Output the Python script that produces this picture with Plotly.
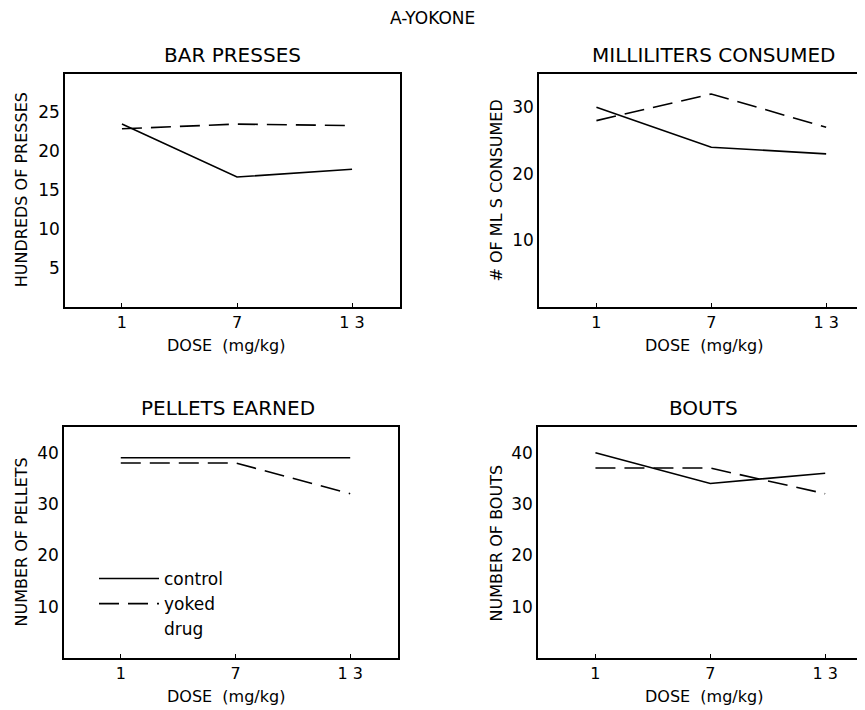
import plotly.graph_objects as go

doses = [1, 7, 13]
dose_ticks = ["1", "7", "1 3"]

bar_control = [23.5, 16.7, 17.7]
bar_yoked = [22.9, 23.5, 23.3]

ml_control = [30.0, 24.0, 23.0]
ml_yoked = [28.0, 32.0, 27.0]

pel_control = [39.0, 39.0, 39.0]
pel_yoked = [38.0, 38.0, 32.0]

bouts_control = [40.0, 34.0, 36.0]
bouts_yoked = [37.0, 37.0, 32.0]

# page has a default 8px body margin: size the figure to fill the rest of the window
OFF = 8
WIN_W, WIN_H = 865, 710
W, H = WIN_W - OFF, WIN_H - OFF
FONT = "DejaVu Sans"

def px(v):
    return (v - OFF) / W

def py(v):
    return 1 - (v - OFF) / H

panels = [
    ("", (65, 400), (307, 73.5), [-1.97, 15.5], [0, 30], [5, 10, 15, 20, 25], bar_control, bar_yoked,
     "BAR PRESSES", "HUNDREDS OF PRESSES", True),
    ("2", (539, 865), (307, 74), [-2.0, 15.03], [0, 35], [10, 20, 30], ml_control, ml_yoked,
     "MILLILITERS CONSUMED", "# OF ML S CONSUMED", False),
    ("3", (64, 398), (658, 427), [-1.97, 15.5], [0, 45], [10, 20, 30, 40], pel_control, pel_yoked,
     "PELLETS EARNED", "NUMBER OF PELLETS", True),
    ("4", (538, 865), (658, 427), [-2.0, 15.08], [0, 45], [10, 20, 30, 40], bouts_control, bouts_yoked,
     "BOUTS", "NUMBER OF BOUTS", False),
]

fig = go.Figure()
layout = dict(
    width=W, height=H,
    margin=dict(l=0, r=0, t=0, b=0),
    paper_bgcolor="white", plot_bgcolor="white",
    font=dict(family=FONT, color="black", size=15),
    showlegend=True,
)
annotations = [dict(text="A-YOKONE", x=px(432), y=py(18), xref="paper", yref="paper",
                    showarrow=False, font=dict(size=17), xanchor="center", yanchor="middle")]

subtitle_pos = {"": (232, 55), "2": (713, 55), "3": (228, 408), "4": (703, 408)}
ytitle_x = {"": 21, "2": 496, "3": 21, "4": 496}
xtitle_y = {"": 345, "2": 345, "3": 696, "4": 696}
xtitle_x = {"": 226, "2": 704, "3": 226, "4": 704}

for s, xd, yd, xr, yr, ytv, ctrl, yok, title, ytitle, mir in panels:
    xa = "x" + s
    ya = "y" + s
    first = (s == "3")
    fig.add_trace(go.Scatter(x=doses, y=ctrl, mode="lines", xaxis=xa, yaxis=ya,
                             line=dict(color="black", width=1.6),
                             name="control", showlegend=first, legendgroup="c"))
    fig.add_trace(go.Scatter(x=doses, y=yok, mode="lines", xaxis=xa, yaxis=ya,
                             line=dict(color="black", width=1.6, dash="20px,9px"),
                             name="yoked", showlegend=first, legendgroup="y"))
    layout["xaxis" + s] = dict(
        domain=[px(xd[0]), min(1.0, px(xd[1]))], range=xr, anchor=ya,
        tickvals=doses, ticktext=dose_ticks, ticks="inside", ticklen=4, tickcolor="black",
        showline=True, linecolor="black", linewidth=1.5, mirror=True,
        showgrid=False, zeroline=False, automargin=False,
        tickfont=dict(size=16, family=FONT),
    )
    layout["yaxis" + s] = dict(
        domain=[py(yd[0]), py(yd[1])], range=yr, anchor=xa,
        tickvals=ytv, ticks="", showline=True, linecolor="black", linewidth=1.5,
        mirror=mir, showgrid=False, zeroline=False, automargin=False,
        tickfont=dict(size=17, family=FONT),
    )
    tx, ty = subtitle_pos[s]
    annotations.append(dict(text=title, x=px(tx), y=py(ty), xref="paper", yref="paper",
                            showarrow=False, font=dict(size=20), xanchor="center", yanchor="middle"))
    annotations.append(dict(text=ytitle, x=px(ytitle_x[s]), y=(py(yd[0]) + py(yd[1])) / 2,
                            xref="paper", yref="paper", textangle=-90, showarrow=False,
                            font=dict(size=16), xanchor="center", yanchor="middle"))
    annotations.append(dict(text="DOSE  (mg/kg)", x=px(xtitle_x[s]), y=py(xtitle_y[s]),
                            xref="paper", yref="paper", showarrow=False,
                            font=dict(size=16), xanchor="center", yanchor="middle"))

# drug entry (no visible line in the reference legend)
fig.add_trace(go.Scatter(x=[None], y=[None], mode="lines", xaxis="x3", yaxis="y3",
                         line=dict(color="rgba(0,0,0,0)", width=1, dash="dot"),
                         name="drug", showlegend=True, legendgroup="d"))

layout["legend"] = dict(x=px(94), y=py(561), xanchor="left", yanchor="top",
                        bgcolor="rgba(0,0,0,0)", font=dict(size=17, family=FONT),
                        tracegroupgap=0, itemwidth=60)
layout["annotations"] = annotations
fig.update_layout(**layout)
fig.write_html("out.html")
